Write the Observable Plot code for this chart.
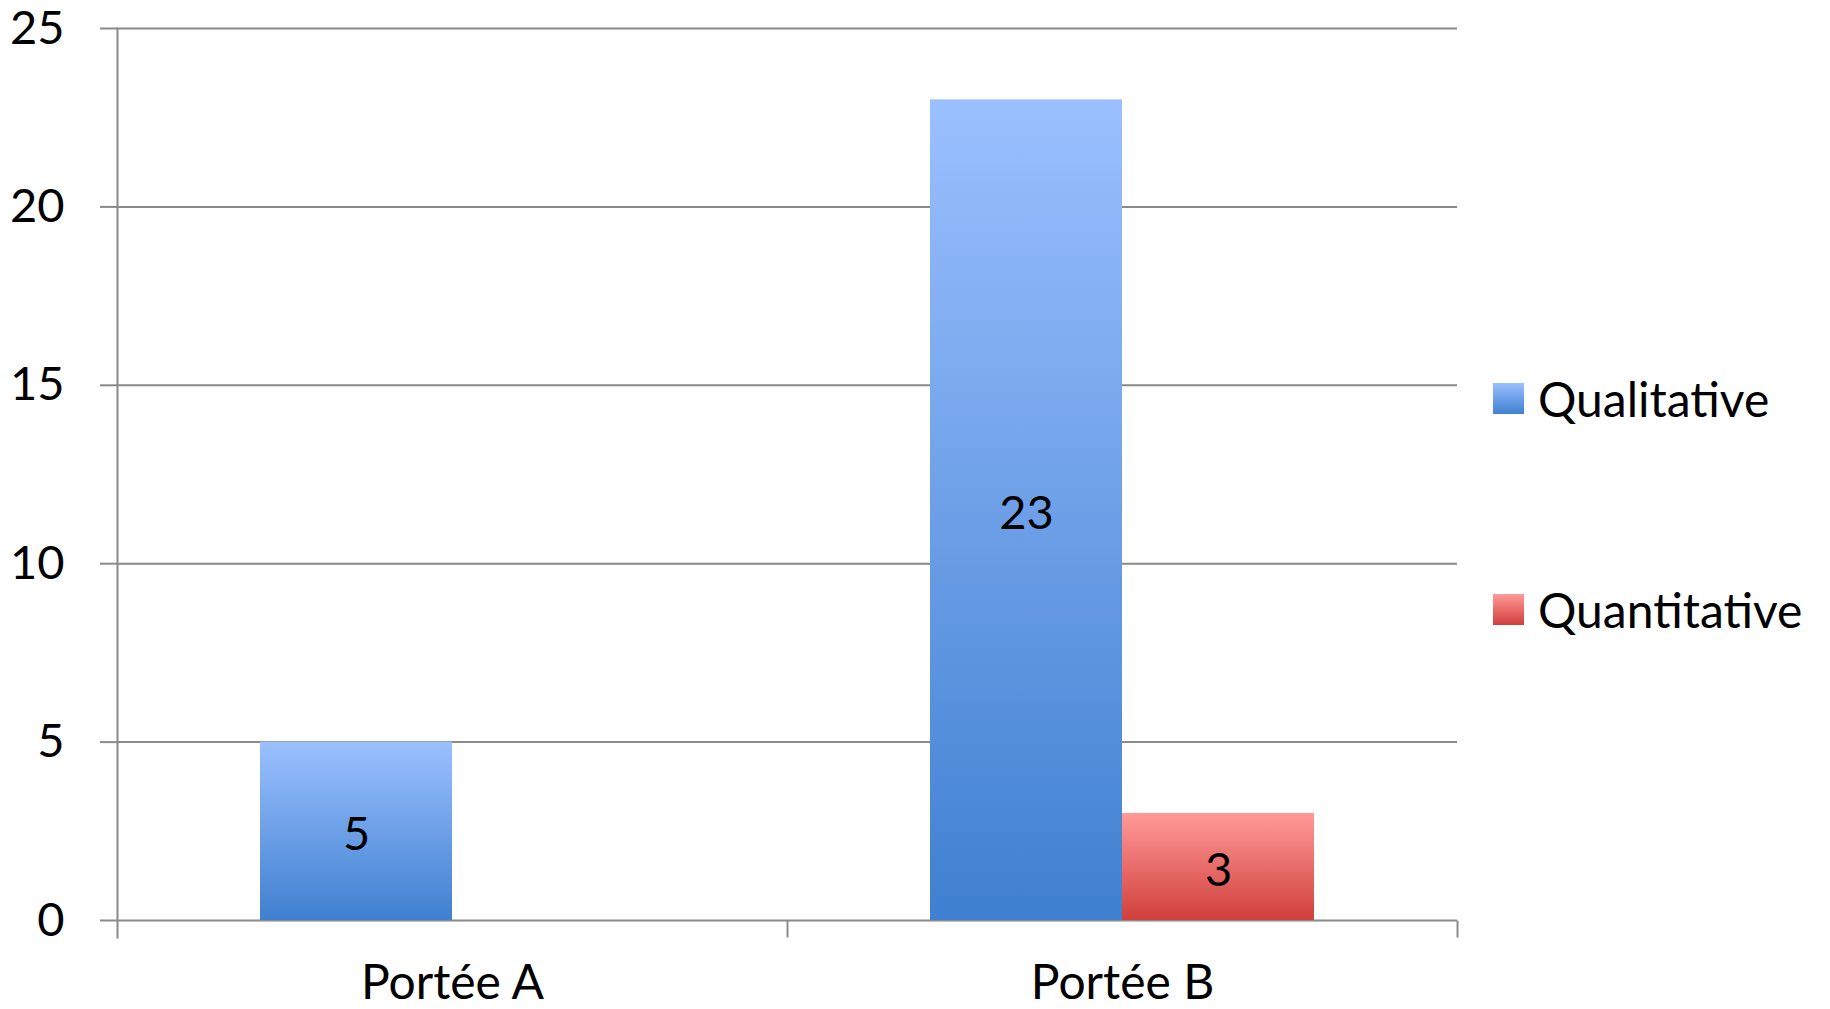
<!DOCTYPE html>
<html>
<head>
<meta charset="utf-8">
<script src="https://cdn.jsdelivr.net/npm/d3@7"></script>
<script src="https://cdn.jsdelivr.net/npm/@observablehq/plot@0.6"></script>
<style>
  html, body { margin: 0; padding: 0; background: #fff; }
  #wrap { position: relative; width: 1830px; height: 1009px; font-family: Lato, "Open Sans", sans-serif; }
  #legend { position: absolute; left: 1493px; top: 0; }
  .item { position: absolute; left: 0; white-space: nowrap; display: flex; align-items: center; font-size: 48px; color: #000; }
  .sw { width: 31px; height: 31px; margin-right: 14px; }
</style>
</head>
<body>
<div id="wrap"><div id="chart"></div><div id="legend"></div></div>
<script>
const categories = ["Portée A", "Portée B"];
const series = ["Qualitative", "Quantitative"];
const qualitative = [5, 23];
const quantitative = [null, 3];
const yTicks = [0, 5, 10, 15, 20, 25];
const gradients = {
  Qualitative: ["#9BC0FF", "#3F80D0"],
  Quantitative: ["#FF9A98", "#D13F3C"]
};
const gradId = {Qualitative: "gq", Quantitative: "gn"};

const rows = [];
categories.forEach((c, i) => {
  if (qualitative[i] != null) rows.push({cat: c, series: "Qualitative", value: qualitative[i]});
  if (quantitative[i] != null) rows.push({cat: c, series: "Quantitative", value: quantitative[i]});
});

const gray = "#8a8a8a";

const chart = Plot.plot({
  width: 1830,
  height: 1009,
  marginLeft: 117,
  marginRight: 373,
  marginTop: 28,
  marginBottom: 89,
  style: {fontFamily: "Lato, 'Open Sans', sans-serif", fontSize: "46px", color: "#000", background: "#fff", overflow: "visible"},
  fx: {domain: categories, padding: 0, label: null},
  x: {domain: series, paddingInner: 0, paddingOuter: 0.736, axis: null},
  y: {domain: [0, 25], label: null},
  color: {type: "identity"},
  marks: [
    Plot.ruleY(yTicks, {stroke: gray, strokeWidth: 2}),
    Plot.frame({anchor: "left", fx: "Portée A", insetBottom: -17, stroke: gray, strokeWidth: 2}),
    Plot.vector(categories, {fx: d => d, frameAnchor: "bottom-right", rotate: 180, length: 17, anchor: "start", r: 0, stroke: gray, strokeWidth: 2, strokeLinecap: "butt"}),
    Plot.axisY({ticks: yTicks, tickSize: 17, tickPadding: 36, stroke: gray, strokeWidth: 2, fontSize: 47, label: null, tickFormat: d3.format("d")}),
    Plot.axisFx({anchor: "bottom", tickSize: 0, tickPadding: 44, fontSize: 48, label: null}),
    Plot.barY(rows, {fx: "cat", x: "series", y: "value", fill: d => `url(#${gradId[d.series]})`, style: "filter: drop-shadow(2px 2px 2px rgba(0,0,0,0.25))"}),
    Plot.text(rows, {fx: "cat", x: "series", y: d => d.value / 2, text: d => String(d.value), fontSize: 47, dy: 4, fill: "#000"})
  ]
});

// gradient definitions
const ns = "http://www.w3.org/2000/svg";
const defs = document.createElementNS(ns, "defs");
for (const s of series) {
  const lg = document.createElementNS(ns, "linearGradient");
  lg.setAttribute("id", gradId[s]);
  lg.setAttribute("x1", "0"); lg.setAttribute("y1", "0");
  lg.setAttribute("x2", "0"); lg.setAttribute("y2", "1");
  gradients[s].forEach((col, k) => {
    const st = document.createElementNS(ns, "stop");
    st.setAttribute("offset", k === 0 ? "0" : "1");
    st.setAttribute("stop-color", col);
    lg.appendChild(st);
  });
  defs.appendChild(lg);
}
chart.insertBefore(defs, chart.firstChild);
document.getElementById("chart").appendChild(chart);

// legend
const legendTops = [370, 581];
const legend = document.getElementById("legend");
series.forEach((s, i) => {
  const it = document.createElement("div");
  it.className = "item";
  it.style.top = legendTops[i] + "px";
  const sw = document.createElement("div");
  sw.className = "sw";
  sw.style.background = `linear-gradient(to bottom, ${gradients[s][0]}, ${gradients[s][1]})`;
  const tx = document.createElement("span");
  tx.textContent = s;
  it.appendChild(sw); it.appendChild(tx);
  legend.appendChild(it);
});
</script>
</body>
</html>
